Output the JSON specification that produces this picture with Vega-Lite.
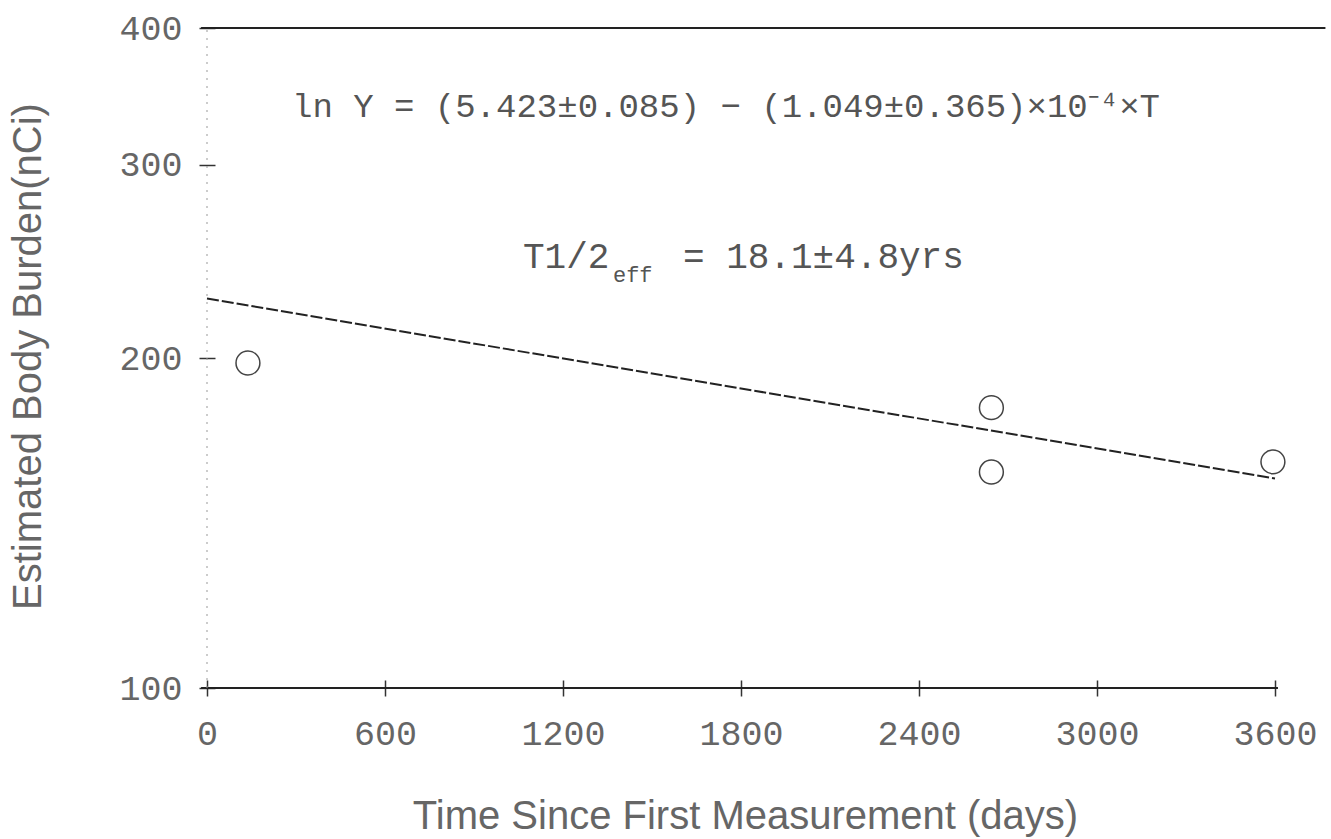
{
  "$schema": "https://vega.github.io/schema/vega-lite/v6.json",
  "width": 1068,
  "height": 660,
  "autosize": {"type": "none"},
  "padding": {"left": 207, "top": 28, "right": 56, "bottom": 151},
  "background": "white",
  "config": {"view": {"stroke": null}, "font": "Liberation Mono"},
  "data": {"values": [{}]},
  "datasets": {
    "measurements": [
      {"T": 138, "Y": 197.9},
      {"T": 2644, "Y": 180.2},
      {"T": 2644, "Y": 157.4},
      {"T": 3593, "Y": 160.8}
    ],
    "fit": [
      {"T": 0, "Y": 226.6},
      {"T": 3600, "Y": 155.3}
    ]
  },
  "layer": [
    {
      "data": {"name": "measurements"},
      "mark": {"type": "point", "shape": "circle", "filled": false, "size": 570, "stroke": "#444", "strokeWidth": 1.5, "opacity": 1},
      "encoding": {
        "x": {
          "field": "T", "type": "quantitative",
          "scale": {"domain": [0, 3600], "nice": false, "zero": false},
          "axis": {
            "title": "Time Since First Measurement (days)",
            "values": [0, 600, 1200, 1800, 2400, 3000, 3600],
            "format": "d",
            "offset": -8,
            "tickSize": 16,
            "tickColor": "#333",
            "tickWidth": 1.5,
            "domain": false,
            "grid": false,
            "labelFont": "Liberation Mono",
            "labelFontSize": 35,
            "labelColor": "#666",
            "labelPadding": 20,
            "labelFlush": false,
            "labelOverlap": false,
            "titleFont": "Liberation Sans",
            "titleFontSize": 40,
            "titleFontWeight": "normal",
            "titleColor": "#666",
            "titleX": 538,
            "titleY": 148,
            "titleAlign": "center",
            "titleBaseline": "alphabetic"
          }
        },
        "y": {
          "field": "Y", "type": "quantitative",
          "scale": {"type": "log", "domain": [100, 400], "nice": false},
          "axis": {
            "title": "Estimated Body Burden(nCi)",
            "values": [100, 200, 300, 400],
            "format": "d",
            "offset": -8,
            "tickSize": 16,
            "tickColor": "#333",
            "tickWidth": 1.5,
            "domain": false,
            "grid": false,
            "labelFont": "Liberation Mono",
            "labelFontSize": 35,
            "labelColor": "#666",
            "labelPadding": 17,
            "labelFlush": false,
            "labelOverlap": false,
            "titleFont": "Liberation Sans",
            "titleFontSize": 40,
            "titleFontWeight": "normal",
            "titleColor": "#666",
            "titleX": -187,
            "titleY": 328,
            "titleAngle": -90,
            "titleAlign": "center",
            "titleBaseline": "middle"
          }
        }
      }
    },
    {
      "mark": {"type": "rule", "stroke": "#222", "strokeWidth": 2},
      "encoding": {
        "x": {"datum": -20, "type": "quantitative"},
        "x2": {"datum": 3770},
        "y": {"datum": 400, "type": "quantitative"}
      }
    },
    {
      "mark": {"type": "rule", "stroke": "#222", "strokeWidth": 2},
      "encoding": {
        "x": {"datum": -20, "type": "quantitative"},
        "x2": {"datum": 3610},
        "y": {"datum": 100, "type": "quantitative"}
      }
    },
    {
      "mark": {"type": "rule", "stroke": "#999", "strokeWidth": 1, "strokeDash": [2, 6]},
      "encoding": {
        "x": {"datum": 0, "type": "quantitative"},
        "y": {"datum": 100, "type": "quantitative"},
        "y2": {"datum": 400}
      }
    },
    {
      "data": {"name": "fit"},
      "mark": {"type": "line", "stroke": "#222", "strokeWidth": 2, "strokeDash": [12, 3]},
      "encoding": {
        "x": {"field": "T", "type": "quantitative"},
        "y": {"field": "Y", "type": "quantitative"}
      }
    },
    {
      "mark": {"type": "text", "text": "ln Y = (5.423±0.085) − (1.049±0.365)×10⁻⁴×T", "align": "left", "baseline": "alphabetic", "font": "Liberation Mono", "fontSize": 34, "fill": "#555"},
      "encoding": {
        "x": {"datum": 286.5, "type": "quantitative"},
        "y": {"datum": 331.8, "type": "quantitative"}
      }
    },
    {
      "mark": {"type": "text", "text": "T1/2", "align": "left", "baseline": "alphabetic", "font": "Liberation Mono", "fontSize": 36, "fill": "#555"},
      "encoding": {
        "x": {"datum": 1065, "type": "quantitative"},
        "y": {"datum": 241.6, "type": "quantitative"}
      }
    },
    {
      "mark": {"type": "text", "text": "eff", "align": "left", "baseline": "alphabetic", "font": "Liberation Mono", "fontSize": 22, "fill": "#555", "dx": 90, "dy": 14},
      "encoding": {
        "x": {"datum": 1065, "type": "quantitative"},
        "y": {"datum": 241.6, "type": "quantitative"}
      }
    },
    {
      "mark": {"type": "text", "text": "= 18.1±4.8yrs", "align": "left", "baseline": "alphabetic", "font": "Liberation Mono", "fontSize": 36, "fill": "#555", "dx": 160},
      "encoding": {
        "x": {"datum": 1065, "type": "quantitative"},
        "y": {"datum": 241.6, "type": "quantitative"}
      }
    }
  ]
}
